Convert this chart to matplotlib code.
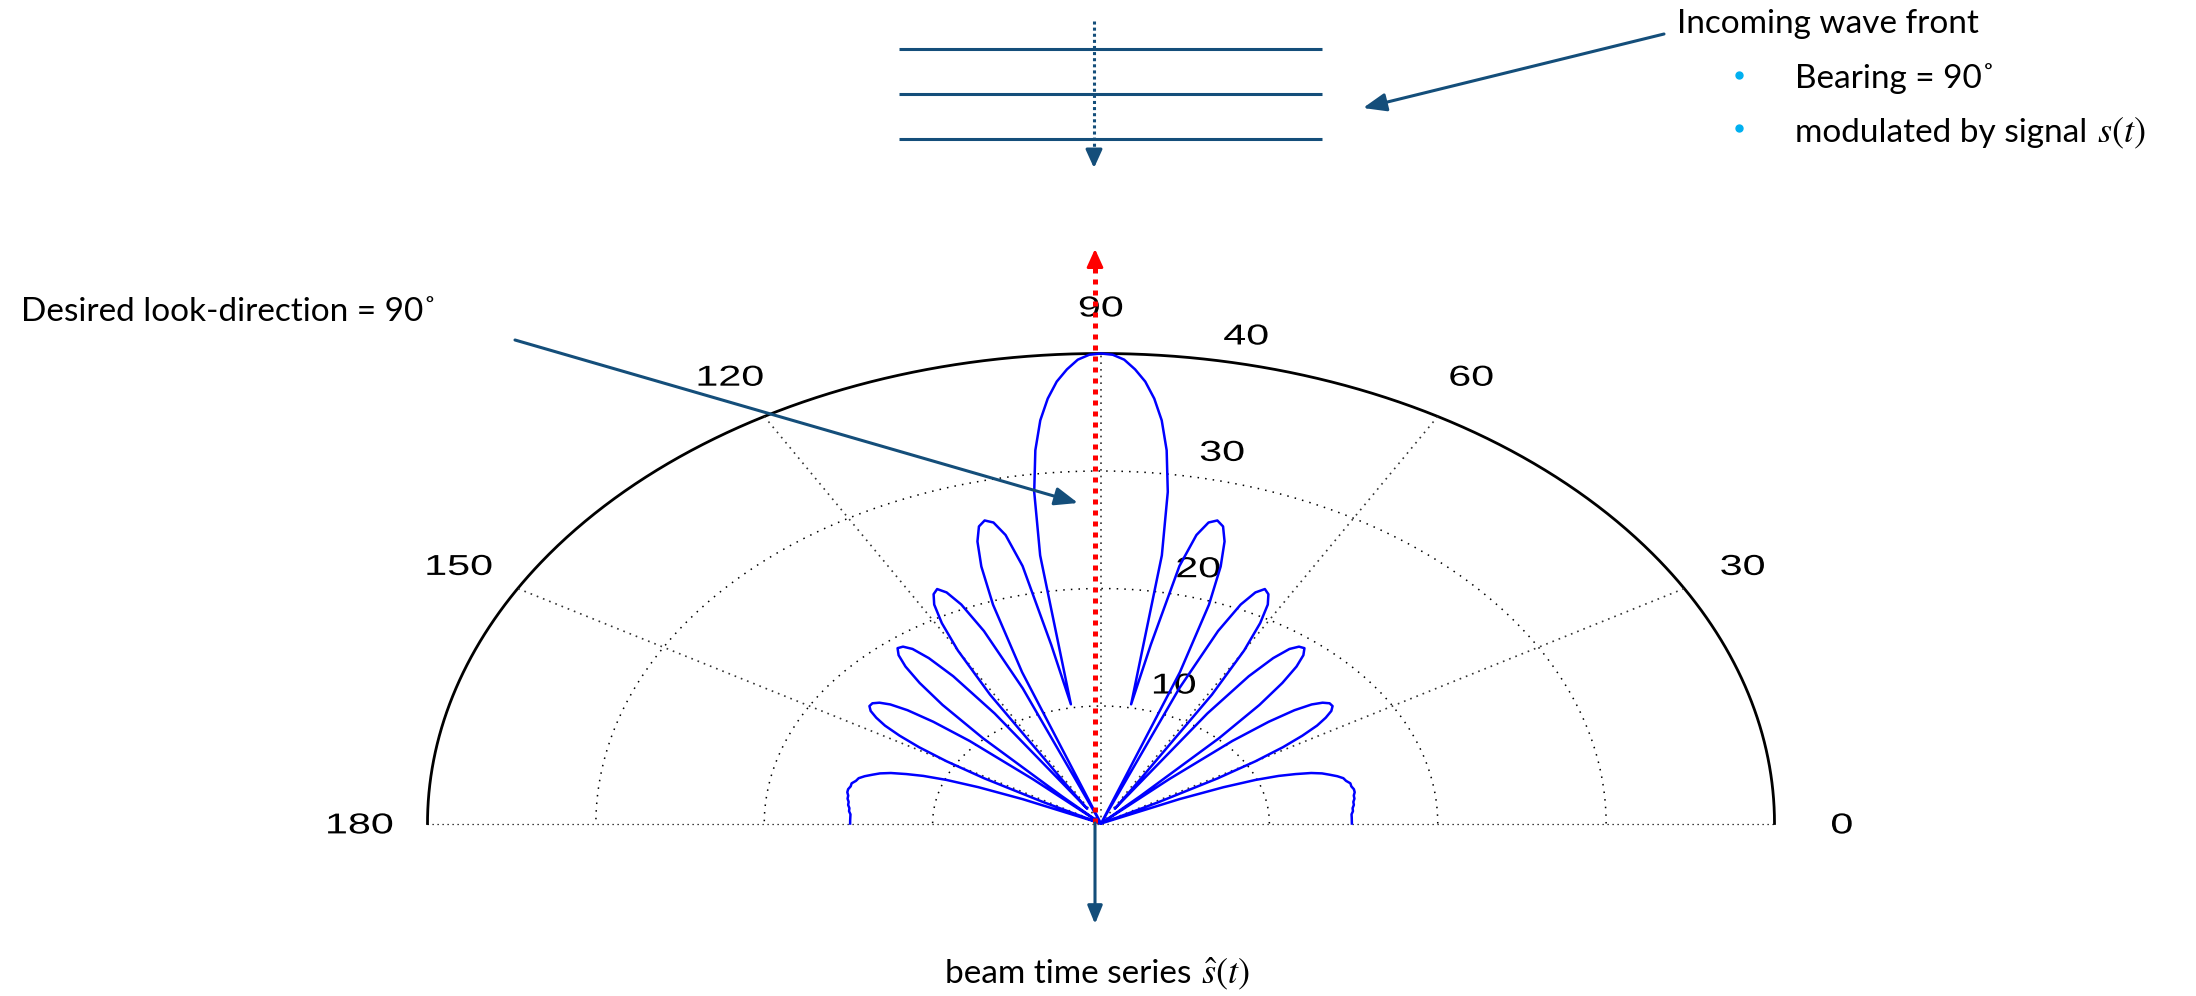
import numpy as np
import matplotlib
matplotlib.use("Agg")
import matplotlib.pyplot as plt
from matplotlib.textpath import TextPath
from matplotlib.patches import PathPatch
from matplotlib.font_manager import FontProperties
from matplotlib.transforms import Affine2D

W, H = 2196, 996
DARK = "#144E7A"

# beam response (dB above floor) sampled every degree of bearing, 0..180
bearing_deg = list(range(0, 181))
beam_level = [
    14.9, 14.9, 14.9, 14.9, 15.0, 15.0, 15.1, 15.1, 15.2, 15.2,
    15.3, 15.3, 15.2, 15.2, 15.0, 14.9, 14.6, 14.2, 13.8, 13.2,
    12.3, 11.3, 9.9, 7.9, 5.1, 0.3, 0.0, 0.0, 3.9, 7.9,
    10.6, 12.6, 14.1, 15.3, 16.1, 16.7, 17.0, 17.0, 16.7, 16.1,
    15.0, 13.2, 10.5, 5.5, 0.0, 3.3, 10.1, 13.8, 16.1, 17.7,
    18.7, 19.2, 19.1, 18.6, 17.4, 15.3, 11.3, 1.5, 3.8, 12.8,
    17.0, 19.5, 21.1, 21.9, 22.2, 21.7, 20.4, 17.8, 12.4, 0.0,
    13.7, 19.7, 23.0, 25.1, 26.3, 26.7, 26.4, 25.2, 22.4, 15.5,
    10.3, 23.1, 28.5, 32.0, 34.5, 36.3, 37.7, 38.7, 39.5, 39.9,
    40.0, 39.9, 39.5, 38.7, 37.7, 36.3, 34.5, 32.0, 28.5, 23.1,
    10.3, 15.5, 22.4, 25.2, 26.4, 26.7, 26.3, 25.1, 23.0, 19.7,
    13.7, 0.0, 12.4, 17.8, 20.4, 21.7, 22.2, 21.9, 21.1, 19.5,
    17.0, 12.8, 3.8, 1.5, 11.3, 15.3, 17.4, 18.6, 19.1, 19.2,
    18.7, 17.7, 16.1, 13.8, 10.1, 3.3, 0.0, 5.5, 10.5, 13.2,
    15.0, 16.1, 16.7, 17.0, 17.0, 16.7, 16.1, 15.3, 14.1, 12.6,
    10.6, 7.9, 3.9, 0.0, 0.0, 0.3, 5.1, 7.9, 9.9, 11.3,
    12.3, 13.2, 13.8, 14.2, 14.6, 14.9, 15.0, 15.2, 15.2, 15.3,
    15.3, 15.2, 15.2, 15.1, 15.1, 15.0, 15.0, 14.9, 14.9, 14.9,
    14.9,
]

ring_levels = [10, 20, 30, 40]
spoke_angles = [30, 60, 90, 120, 150]
angle_labels = [0, 30, 60, 90, 120, 150, 180]

plt.rcParams["font.family"] = ["Lato", "DejaVu Sans"]
plt.rcParams["mathtext.fontset"] = "stix"

fig = plt.figure(figsize=(W / 100, H / 100), dpi=100)

# polar panel drawn on cartesian axes (stretched horizontally)
pax = fig.add_axes([427.5 / W, (H - 823.5) / H, 1347 / W, 470 / H])
pax.set_xlim(-40, 40)
pax.set_ylim(0, 40)
pax.axis("off")

t = np.radians(np.linspace(0, 180, 721))
for r in ring_levels[:-1]:
    pax.plot(r * np.cos(t), r * np.sin(t), color="k", lw=1.1,
             ls=(0, (1, 4)), clip_on=False)
pax.plot(40 * np.cos(t), 40 * np.sin(t), color="k", lw=2.0, clip_on=False)
for a in spoke_angles:
    ar = np.radians(a)
    pax.plot([0, 40 * np.cos(ar)], [0, 40 * np.sin(ar)], color="#333333",
             lw=1.2, ls=(0, (1, 3)), clip_on=False)
pax.plot([-40, 40], [0, 0], color="k", lw=0.9, ls=(0, (1, 3)), clip_on=False)

# tick labels as glyph outlines in data units, so they stretch with the panel
LABEL_FONT = FontProperties(family="Liberation Sans")
LABEL_EM = 2.45


def polar_label(s, x, y, ha="center"):
    path = TextPath((0, 0), s, size=1, prop=LABEL_FONT)
    ext = path.get_extents()
    dx = -(ext.x0 + ext.x1) / 2 if ha == "center" else -ext.x0
    dy = -(ext.y0 + ext.y1) / 2
    tr = Affine2D().translate(dx, dy).scale(LABEL_EM).translate(x, y)
    pax.add_patch(PathPatch(tr.transform_path(path), fc="k", lw=0,
                            clip_on=False))


for a in angle_labels:
    ar = np.radians(a)
    polar_label(str(a), 44 * np.cos(ar), 44 * np.sin(ar))
c82, s82 = np.cos(np.radians(82)), np.sin(np.radians(82))
for r in ring_levels:
    polar_label(str(r), r * c82 + 1.75, r * s82 + 2.0, ha="left")

th = np.radians(bearing_deg)
lvl = np.array(beam_level)
pax.plot(lvl * np.cos(th), lvl * np.sin(th), color="blue", lw=1.8,
         clip_on=False)

# annotation layer in pixel units
ov = fig.add_axes([0, 0, 1, 1])
ov.set_xlim(0, W)
ov.set_ylim(H, 0)
ov.axis("off")
ov.set_zorder(3)
renderer = fig.canvas.get_renderer()


def arrow(tip, start, color=DARK, lw=2.2, hl=1.4, hw=0.55):
    ov.annotate("", xy=tip, xytext=start,
                arrowprops=dict(arrowstyle=f"-|>,head_length={hl},head_width={hw}",
                                color=color, lw=lw, shrinkA=0, shrinkB=0))


def text_math(x, y, words, math, centered=False, gap=10):
    # plain words followed by a slightly larger math term
    t1 = ov.text(x, y, words, fontsize=24, va="baseline")
    t2 = ov.text(x, y, math, fontsize=26, va="baseline")
    w1 = t1.get_window_extent(renderer).width
    w2 = t2.get_window_extent(renderer).width
    x0 = x - (w1 + gap + w2) / 2 if centered else x
    t1.set_x(x0)
    t2.set_x(x0 + w1 + gap)


# incoming wave front
ov.hlines([49, 94, 139], 899, 1322, color=DARK, lw=2.2)
ov.plot([1094, 1094], [21, 155], color=DARK, lw=2.2, ls=(0, (1, 1)))
arrow((1094, 168), (1094, 152), hl=1.1, hw=0.5)
arrow((1363, 108), (1664, 34))

ov.text(1677, 33, "Incoming wave front", fontsize=24, va="baseline")
ov.plot([1739, 1739], [75, 128], "o", ms=5, color="#00B0F0")
ov.text(1795, 88, "Bearing = 90˚", fontsize=24, va="baseline")
text_math(1795, 142, "modulated by signal", "$s(t)$")

# look direction
ov.plot([1095, 1095], [823, 266], color="red", lw=3.6, ls=(0, (1, 1.2)))
arrow((1095, 249), (1095, 268), color="red", lw=2, hl=1.1, hw=0.5)
ov.text(21, 321, "Desired look-direction = 90˚", fontsize=24, va="baseline")
arrow((1078, 503), (515, 340))

# beam output
arrow((1095, 924), (1095, 823), hl=1.1, hw=0.45)
text_math(1097, 983, "beam time series", r"$\hat{s}(t)$", centered=True)

fig.savefig("out.png", dpi=100)
